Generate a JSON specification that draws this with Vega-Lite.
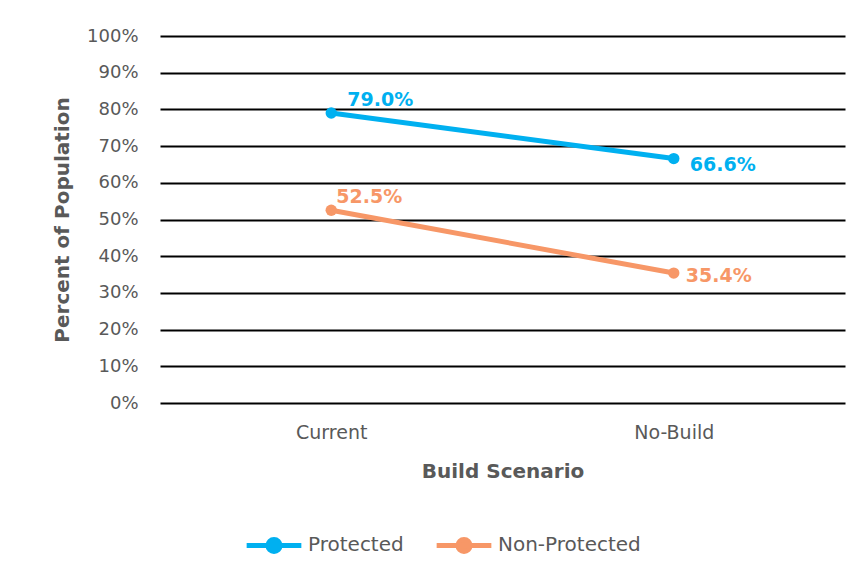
{
  "$schema": "https://vega.github.io/schema/vega-lite/v6.json",
  "autosize": {"type": "none"},
  "width": 685,
  "height": 367,
  "padding": {"left": 160, "top": 36, "right": 20, "bottom": 175},
  "background": "white",
  "config": {
    "font": "DejaVu Sans",
    "view": {"stroke": null},
    "axis": {"labelColor": "#595959", "titleColor": "#595959"}
  },
  "data": {
    "values": [
      {"scenario": "Current", "group": "Protected", "pct": 0.790},
      {"scenario": "No-Build", "group": "Protected", "pct": 0.666},
      {"scenario": "Current", "group": "Non-Protected", "pct": 0.525},
      {"scenario": "No-Build", "group": "Non-Protected", "pct": 0.354}
    ]
  },
  "encoding": {
    "x": {
      "field": "scenario", "type": "nominal",
      "scale": {"type": "point", "padding": 0.5},
      "axis": {"title": "Build Scenario", "labelAngle": 0, "labelFontSize": 19, "labelPadding": 20, "ticks": false, "domain": false, "titleFontSize": 20, "titleFontWeight": "bold", "titlePadding": 19}
    },
    "y": {
      "field": "pct", "type": "quantitative",
      "scale": {"domain": [0, 1]},
      "axis": {"title": "Percent of Population", "format": ".0%", "values": [0,0.1,0.2,0.3,0.4,0.5,0.6,0.7,0.8,0.9,1], "labelOverlap": false, "labelFontSize": 18, "labelPadding": 22, "ticks": false, "domain": false, "grid": true, "gridColor": "black", "gridWidth": 2, "gridOpacity": 1, "titleFontSize": 20, "titleFontWeight": "bold", "titlePadding": 14}
    },
    "color": {
      "field": "group", "type": "nominal",
      "scale": {"domain": ["Protected", "Non-Protected"], "range": ["#00B0F0", "#F79767"]},
      "legend": {"title": null, "orient": "none", "direction": "horizontal", "legendX": 93, "legendY": 488, "labelFontSize": 20, "labelColor": "#595959", "symbolType": "M -1.5 0 L 1.5 0 M -0.33 0 A 0.33 0.33 0 1 0 0.33 0 A 0.33 0.33 0 1 0 -0.33 0", "symbolSize": 1330, "symbolStrokeWidth": 5, "labelOffset": 13, "columnPadding": 22}
    }
  },
  "layer": [
    {"mark": {"type": "line", "strokeWidth": 5}},
    {"mark": {"type": "point", "filled": true, "size": 130, "opacity": 1}, "encoding": {"color": {"field": "group", "type": "nominal", "legend": null}}},
    {
      "transform": [{"filter": "datum.group == 'Protected' && datum.scenario == 'Current'"}],
      "mark": {"type": "text", "align": "left", "dx": 16, "dy": -13, "fontSize": 19, "fontWeight": "bold"},
      "encoding": {"text": {"field": "pct", "format": ".1%"}, "color": {"field": "group", "type": "nominal", "legend": null}}
    },
    {
      "transform": [{"filter": "datum.group == 'Protected' && datum.scenario == 'No-Build'"}],
      "mark": {"type": "text", "align": "left", "dx": 16, "dy": 6, "fontSize": 19, "fontWeight": "bold"},
      "encoding": {"text": {"field": "pct", "format": ".1%"}, "color": {"field": "group", "type": "nominal", "legend": null}}
    },
    {
      "transform": [{"filter": "datum.group == 'Non-Protected' && datum.scenario == 'Current'"}],
      "mark": {"type": "text", "align": "left", "dx": 5, "dy": -13, "fontSize": 19, "fontWeight": "bold"},
      "encoding": {"text": {"field": "pct", "format": ".1%"}, "color": {"field": "group", "type": "nominal", "legend": null}}
    },
    {
      "transform": [{"filter": "datum.group == 'Non-Protected' && datum.scenario == 'No-Build'"}],
      "mark": {"type": "text", "align": "left", "dx": 12, "dy": 3, "fontSize": 19, "fontWeight": "bold"},
      "encoding": {"text": {"field": "pct", "format": ".1%"}, "color": {"field": "group", "type": "nominal", "legend": null}}
    }
  ]
}
